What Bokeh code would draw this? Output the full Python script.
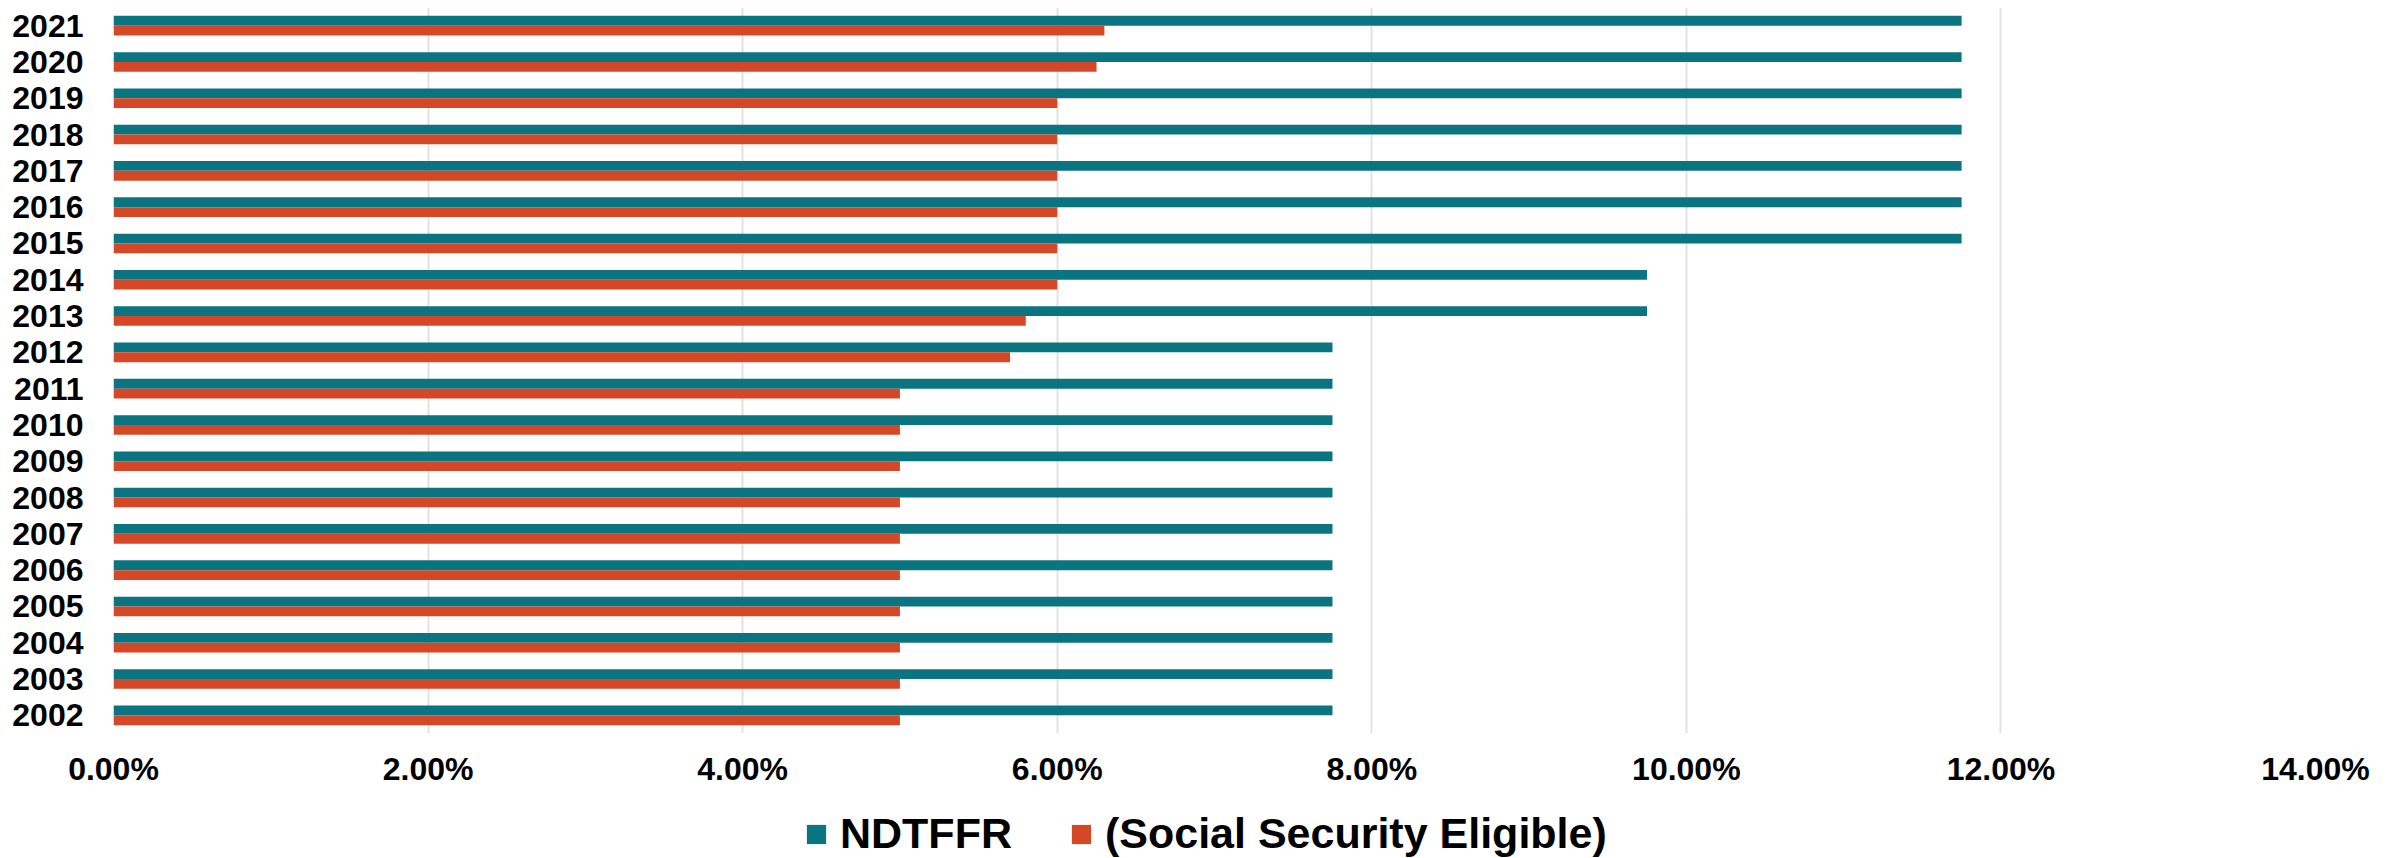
from bokeh.plotting import figure
from bokeh.layouts import column
from bokeh.models import (ColumnDataSource, FactorRange, Range1d, Legend, LegendItem,
                          NumeralTickFormatter, FixedTicker)
from bokeh.transform import dodge
from bokeh.embed import file_html
from bokeh.resources import INLINE

# ---- data ----
years = ["2002", "2003", "2004", "2005", "2006", "2007", "2008", "2009", "2010", "2011",
         "2012", "2013", "2014", "2015", "2016", "2017", "2018", "2019", "2020", "2021"]
ndtffr_pct = [7.75, 7.75, 7.75, 7.75, 7.75, 7.75, 7.75, 7.75, 7.75, 7.75,
              7.75, 9.75, 9.75, 11.75, 11.75, 11.75, 11.75, 11.75, 11.75, 11.75]
ss_eligible_pct = [5.00, 5.00, 5.00, 5.00, 5.00, 5.00, 5.00, 5.00, 5.00, 5.00,
                   5.70, 5.80, 6.00, 6.00, 6.00, 6.00, 6.00, 6.00, 6.25, 6.30]
x_ticks = [0.0, 0.02, 0.04, 0.06, 0.08, 0.10, 0.12, 0.14]
series_names = ["NDTFFR", "(Social Security Eligible)"]

TEAL = "#0a7480"
ORANGE = "#d44827"
FONT = "Liberation Sans"

src = ColumnDataSource(dict(
    year=years,
    ndtffr=[v / 100 for v in ndtffr_pct],
    ss=[v / 100 for v in ss_eligible_pct],
))

p = figure(width=2397, height=792,
           y_range=FactorRange(*years), x_range=Range1d(0, 0.14),
           output_backend="svg", toolbar_location=None,
           min_border_left=113, min_border_right=82,
           min_border_top=7, min_border_bottom=59)

p.hbar(y=dodge("year", 0.135, range=p.y_range), left=0, right="ndtffr",
       height=0.27, source=src, fill_color=TEAL, line_color=None)
p.hbar(y=dodge("year", -0.135, range=p.y_range), left=0, right="ss",
       height=0.27, source=src, fill_color=ORANGE, line_color=None)

p.outline_line_color = None
p.background_fill_color = "white"
p.border_fill_color = "white"

# x axis
p.xaxis.ticker = FixedTicker(ticks=x_ticks)
p.xaxis.formatter = NumeralTickFormatter(format="0.00%")
p.xaxis.axis_line_color = None
p.xaxis.major_tick_line_color = None
p.xaxis.minor_tick_line_color = None
p.xaxis.major_tick_out = 0
p.xaxis.major_tick_in = 0
p.xaxis.major_label_standoff = 17
p.xaxis.major_label_text_font = FONT
p.xaxis.major_label_text_font_style = "bold"
p.xaxis.major_label_text_font_size = "32px"
p.xaxis.major_label_text_color = "black"

# y axis
p.yaxis.axis_line_color = None
p.yaxis.major_tick_line_color = None
p.yaxis.minor_tick_line_color = None
p.yaxis.major_tick_out = 0
p.yaxis.major_tick_in = 0
p.yaxis.major_label_standoff = 30
p.yaxis.major_label_text_font = FONT
p.yaxis.major_label_text_font_style = "bold"
p.yaxis.major_label_text_font_size = "32px"
p.yaxis.major_label_text_color = "black"

# grid
p.ygrid.grid_line_color = None
p.xgrid.grid_line_color = "#e2e2e2"
p.xgrid.grid_line_width = 2

# ---- legend strip below the chart (frame aligned with the chart's frame) ----
lg = figure(width=2397, height=66, x_range=Range1d(0, 1), y_range=Range1d(0, 1),
            output_backend="svg", toolbar_location=None,
            x_axis_type=None, y_axis_type=None,
            min_border_left=113, min_border_right=82, min_border_top=0, min_border_bottom=0)
lg.outline_line_color = None
lg.grid.visible = False
lg.background_fill_color = "white"
# zero-size swatch renderers (only used for the legend keys)
key_src = ColumnDataSource(dict(y=[0.5], left=[0.0], right=[0.0]))
lr1 = lg.hbar(y="y", left="left", right="right", height=0.0, source=key_src,
              fill_color=TEAL, line_color=None)
lr2 = lg.hbar(y="y", left="left", right="right", height=0.0, source=key_src,
              fill_color=ORANGE, line_color=None)

legend = Legend(items=[LegendItem(label=series_names[0], renderers=[lr1]),
                       LegendItem(label=series_names[1], renderers=[lr2])],
                orientation="horizontal", location=(691, 0),
                glyph_width=24, glyph_height=24, label_standoff=12, spacing=57,
                padding=0, margin=0, border_line_alpha=0, background_fill_alpha=0,
                label_text_font=FONT, label_text_font_style="bold",
                label_text_font_size="43px", label_text_color="black")
lg.add_layout(legend)

layout = column(p, lg, spacing=0)
open("out.html", "w").write(file_html(layout, INLINE))
